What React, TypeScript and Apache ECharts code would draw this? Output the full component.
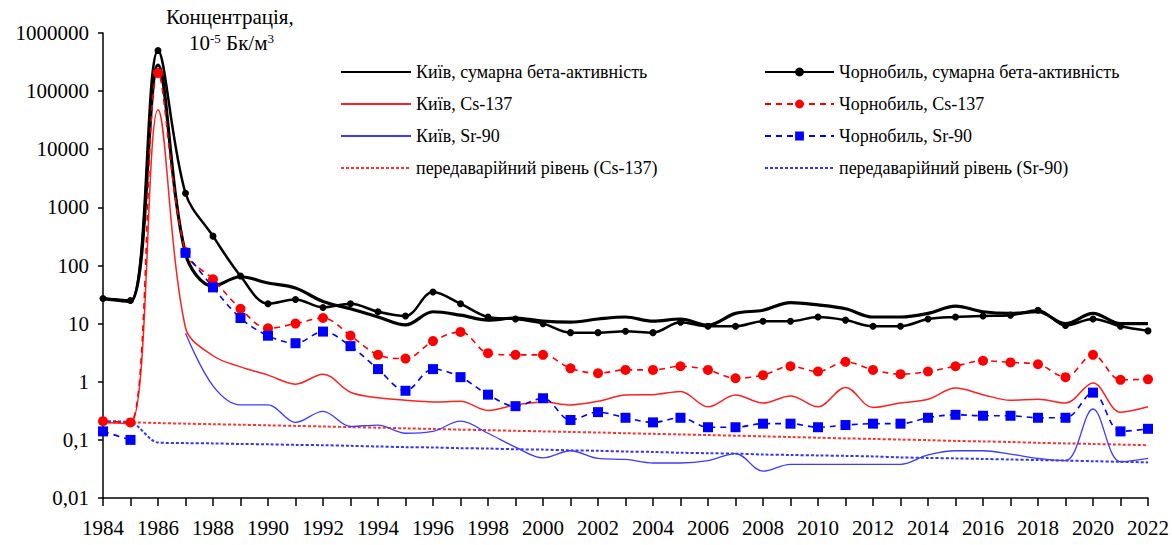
import React, { useEffect, useRef } from "react";
import * as echarts from "echarts";

const years = [
  "1984","1985","1986","1987","1988","1989","1990","1991","1992","1993",
  "1994","1995","1996","1997","1998","1999","2000","2001","2002","2003",
  "2004","2005","2006","2007","2008","2009","2010","2011","2012","2013",
  "2014","2015","2016","2017","2018","2019","2020","2021","2022",
];

const kyivBeta = [27, 24, 280000, 160, 44, 64, 50, 41, 24, 18, 13, 9.5, 16, 14, 11.5, 12.5, 11, 10.6, 12, 13, 11, 12, 9.4, 15, 17, 23, 21, 18, 13, 13, 15, 20, 16, 15, 16, 10, 15, 10, 10];
const chornBeta = [27, 25, 500000, 1750, 320, 66, 22, 26, 19, 22, 16, 13.5, 35, 22, 13, 12, 10, 7, 7, 7.4, 7, 10.6, 9, 9, 11, 11, 13, 11.5, 9, 9, 12, 13, 13.5, 14, 17, 9.3, 12, 9, 7.5];
const kyivCs = [0.2, 0.19, 48000, 8.5, 2.8, 1.8, 1.3, 0.91, 1.35, 0.66, 0.53, 0.48, 0.45, 0.46, 0.32, 0.4, 0.45, 0.4, 0.46, 0.59, 0.6, 0.68, 0.37, 0.59, 0.43, 0.57, 0.37, 0.8, 0.36, 0.43, 0.5, 0.78, 0.6, 0.48, 0.5, 0.43, 0.95, 0.3, 0.37];
const chornCs = [0.21, 0.2, 205000, 170, 58, 18, 8.3, 10, 12.5, 6.2, 2.9, 2.5, 5, 7.2, 3.1, 2.9, 2.9, 1.7, 1.4, 1.6, 1.6, 1.85, 1.6, 1.15, 1.3, 1.85, 1.5, 2.2, 1.6, 1.35, 1.5, 1.85, 2.3, 2.15, 2.0, 1.2, 2.9, 1.08, 1.1];
const kyivSr = [null, null, null, 6.8, 0.85, 0.4, 0.4, 0.2, 0.31, 0.17, 0.18, 0.13, 0.14, 0.21, 0.13, 0.075, 0.049, 0.065, 0.048, 0.046, 0.04, 0.04, 0.044, 0.058, 0.029, 0.038, 0.038, 0.038, 0.038, 0.038, 0.055, 0.065, 0.065, 0.057, 0.048, 0.044, 0.34, 0.042, 0.048];
const chornSr = [0.14, 0.1, null, 165, 42, 12.5, 6.2, 4.6, 7.3, 4.1, 1.65, 0.7, 1.65, 1.2, 0.6, 0.38, 0.52, 0.22, 0.3, 0.24, 0.2, 0.24, 0.165, 0.165, 0.19, 0.19, 0.165, 0.18, 0.19, 0.19, 0.24, 0.27, 0.26, 0.26, 0.24, 0.24, 0.65, 0.14, 0.155];
const preCs = [0.2, 0.2, 0.195, 0.19, 0.186, 0.182, 0.178, 0.174, 0.17, 0.166, 0.162, 0.158, 0.154, 0.15, 0.147, 0.143, 0.14, 0.137, 0.134, 0.13, 0.127, 0.124, 0.121, 0.118, 0.115, 0.112, 0.109, 0.106, 0.104, 0.101, 0.099, 0.096, 0.094, 0.092, 0.089, 0.087, 0.085, 0.083, 0.081];
const preSr = [0.21, 0.2, 0.09, 0.088, 0.087, 0.085, 0.084, 0.082, 0.081, 0.079, 0.077, 0.075, 0.074, 0.072, 0.071, 0.069, 0.068, 0.066, 0.065, 0.063, 0.062, 0.06, 0.059, 0.058, 0.056, 0.055, 0.054, 0.053, 0.052, 0.05, 0.049, 0.048, 0.047, 0.046, 0.045, 0.044, 0.043, 0.042, 0.041];

const names = {
  kyivBeta: "Київ, сумарна бета-активність",
  kyivCs: "Київ, Cs-137",
  kyivSr: "Київ, Sr-90",
  preCs: "передаварійний рівень (Cs-137)",
  chornBeta: "Чорнобиль, сумарна бета-активність",
  chornCs: "Чорнобиль, Cs-137",
  chornSr: "Чорнобиль, Sr-90",
  preSr: "передаварійний рівень (Sr-90)",
};

const FONT = "Liberation Serif";

export default function App() {
  const ref = useRef<HTMLDivElement>(null);
  useEffect(() => {
    document.body.style.margin = "0";
    const chart = echarts.init(ref.current!, null, { renderer: "svg" });
    const legendCommon = {
      orient: "vertical" as const,
      itemGap: 14,
      itemHeight: 11,
      textStyle: { fontFamily: FONT, fontSize: 18, color: "#000", lineHeight: 18 },
      inactiveColor: "#ccc",
    };
    const noSym = (name: string) => ({ name, itemStyle: { opacity: 0 } });
    chart.setOption({
      animation: false,
      backgroundColor: "#fff",
      grid: { left: 103, right: 24, top: 33, bottom: 47, containLabel: false },
      xAxis: {
        type: "category",
        data: years,
        boundaryGap: false,
        axisLine: { lineStyle: { color: "#000", width: 1.5 } },
        axisTick: { show: true, interval: 0, length: 8, lineStyle: { color: "#000", width: 1.5 } },
        axisLabel: { interval: 1, color: "#000", fontFamily: FONT, fontSize: 21, margin: 19 },
        splitLine: { show: false },
      },
      yAxis: {
        type: "log",
        logBase: 10,
        min: 0.01,
        max: 1000000,
        axisLine: { show: true, lineStyle: { color: "#000", width: 1.5 } },
        axisTick: { show: true, length: 5, lineStyle: { color: "#000", width: 1.5 } },
        axisLabel: {
          color: "#000",
          fontFamily: FONT,
          fontSize: 21,
          margin: 14,
          formatter: (v: number) => String(Number(v.toPrecision(6))).replace(".", ","),
        },
        splitLine: { show: false },
      },
      legend: [
        {
          ...legendCommon,
          left: 335,
          top: 58,
          itemWidth: 70,
          data: [noSym(names.kyivBeta), noSym(names.kyivCs), noSym(names.kyivSr), noSym(names.preCs)],
        },
        {
          ...legendCommon,
          left: 759,
          top: 58,
          itemWidth: 69,
          data: [names.chornBeta, names.chornCs, names.chornSr, noSym(names.preSr)],
        },
      ],
      graphic: [
        {
          type: "text",
          left: 166,
          top: 6,
          style: { text: "Концентрація,", font: `21px "${FONT}"`, fill: "#000" },
        },
        {
          type: "text",
          left: 189,
          top: 32,
          style: {
            text: "10{sup|-5} Бк/м{sup|3}",
            font: `21px "${FONT}"`,
            fill: "#000",
            rich: {
              sup: { fontSize: 13, fontFamily: FONT, verticalAlign: "top", padding: [0, 0, 9, 0] },
            },
          },
        },
      ],
      series: [
        {
          name: names.preCs,
          type: "line",
          data: preCs,
          smooth: 0.3,
          symbol: "none",
          lineStyle: { color: "#ff3030", width: 2, type: [3, 2] },
          itemStyle: { color: "#ff3030" },
          z: 1,
        },
        {
          name: names.preSr,
          type: "line",
          data: preSr,
          smooth: 0.3,
          symbol: "none",
          lineStyle: { color: "#3333ff", width: 2, type: [3, 2] },
          itemStyle: { color: "#3333ff" },
          z: 1,
        },
        {
          name: names.kyivSr,
          type: "line",
          data: kyivSr,
          smooth: 0.35,
          symbol: "none",
          lineStyle: { color: "#3c3cff", width: 1.3 },
          itemStyle: { color: "#3c3cff" },
          z: 2,
        },
        {
          name: names.kyivCs,
          type: "line",
          data: kyivCs,
          smooth: 0.35,
          symbol: "none",
          lineStyle: { color: "#ff2020", width: 1.5 },
          itemStyle: { color: "#ff2020" },
          z: 2,
        },
        {
          name: names.kyivBeta,
          type: "line",
          data: kyivBeta,
          smooth: 0.35,
          symbol: "none",
          lineStyle: { color: "#000", width: 3.2 },
          itemStyle: { color: "#000" },
          z: 3,
        },
        {
          name: names.chornBeta,
          type: "line",
          data: chornBeta,
          smooth: 0.35,
          symbol: "circle",
          symbolSize: 7,
          showSymbol: true,
          lineStyle: { color: "#000", width: 2.5 },
          itemStyle: { color: "#000" },
          z: 4,
        },
        {
          name: names.chornCs,
          type: "line",
          data: chornCs,
          smooth: 0.35,
          symbol: "circle",
          symbolSize: 10,
          lineStyle: { color: "#ff0000", width: 1.6, type: [6, 5] },
          itemStyle: { color: "#ff0000" },
          z: 5,
        },
        {
          name: names.chornSr,
          type: "line",
          data: chornSr,
          smooth: 0.35,
          symbol: "rect",
          symbolSize: 10,
          lineStyle: { color: "#0000ff", width: 1.6, type: [6, 5] },
          itemStyle: { color: "#0000ff" },
          z: 5,
        },
      ],
    });
    return () => chart.dispose();
  }, []);
  return <div ref={ref} style={{ width: 1172, height: 545 }} />;
}
